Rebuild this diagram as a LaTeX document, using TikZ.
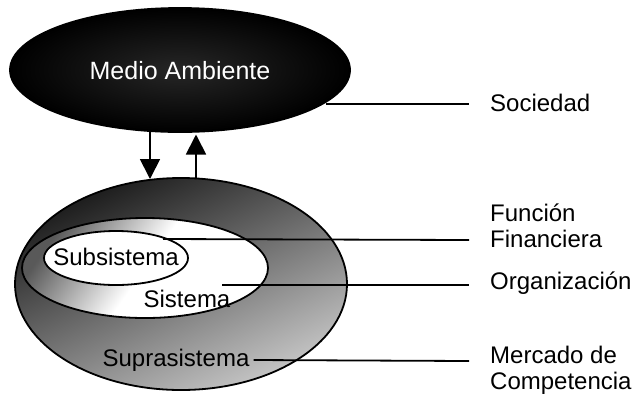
\documentclass[tikz,border=0pt]{standalone}
\usepackage{fontspec}
\setmainfont{Liberation Sans}
\usetikzlibrary{arrows.meta}
\begin{document}
\begin{tikzpicture}[x=1bp,y=-1bp,
  lbl/.style={font=\fontsize{24bp}{26bp}\selectfont, inner sep=0pt, anchor=west, align=left},
  inlbl/.style={font=\fontsize{24bp}{26bp}\selectfont, inner sep=0pt},
  edge/.style={line width=1.8bp, draw=black},
  leader/.style={line width=1.8bp, draw=black},
  flow/.style={line width=1.8bp, draw=black, -{Triangle[width=20bp,length=20bp]}}]
\useasboundingbox (0,0) rectangle (637,402);

% environment ellipse
\shade[edge, inner color=black!85, outer color=black, shading=radial]
  (180,70) ellipse [x radius=170, y radius=62];
\node[inlbl, text=white, font=\fontsize{25bp}{27bp}\selectfont] (medio) at (180,71) {Medio Ambiente};
\coordinate (envS) at (150,131.5);
\coordinate (envR) at (196,134.5);
\coordinate (socP) at (326,104);

% supra-system ring
\shade[edge, top color=black!90, bottom color=black!22, shading angle=25]
  (181,284) ellipse [x radius=166, y radius=106];
\coordinate (supT) at (150,179);
\coordinate (supR) at (196,178.5);

% system
\shade[edge, top color=black!65, bottom color=white, middle color=white, shading angle=55]
  (145,268) ellipse [x radius=123, y radius=50];

% subsystem
\draw[edge, fill=white] (116,258) ellipse [x radius=72, y radius=27];

\node[inlbl] (sub) at (116,257) {Subsistema};
\node[inlbl] (sis) at (187,299) {Sistema};
\node[inlbl] (sup) at (176,360) {Suprasistema};
\coordinate (subP) at (163,239);
\coordinate (sisP) at (222,285);

% exchange arrows
\draw[flow] (envS) -- (supT);
\draw[flow] (supR) -- (envR);

% right-hand labels
\node[lbl] (soc) at (490,103) {Sociedad};
\node[lbl] (fun) at (490,226) {Función\\Financiera};
\node[lbl] (org) at (490,283) {Organización};
\node[lbl] (mer) at (490,370) {Mercado de\\Competencia};

\coordinate (socE) at (469,104);
\coordinate (funE) at (469,240);
\coordinate (orgE) at (469,285);
\coordinate (merE) at (469,361);

\draw[leader] (socP) -- (socE);
\draw[leader] (subP) -- (funE);
\draw[leader] (sisP) -- (orgE);
\draw[leader] (sup.east) ++(4,0) coordinate (supP) -- (merE);
\end{tikzpicture}
\end{document}
